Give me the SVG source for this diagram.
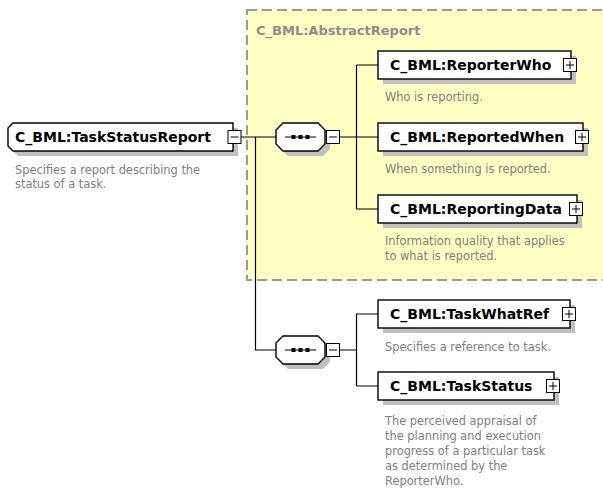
<svg xmlns="http://www.w3.org/2000/svg" xmlns:xlink="http://www.w3.org/1999/xlink" width="603" height="492" viewBox="0 0 603 492">
  <style>
    .box{fill:#fff;stroke:#000;stroke-width:1.4}
    .shadow{fill:#c0c0c0}
    .name{font-family:"DejaVu Sans",Verdana,sans-serif;font-weight:bold;font-size:14px;fill:#000}
    .group-name{font-family:"DejaVu Sans",Verdana,sans-serif;font-weight:bold;font-size:13px;fill:#8c8c8c}
    .doc{font-family:"DejaVu Sans",Verdana,sans-serif;font-size:11.4px;fill:#808080}
    .wire{fill:none;stroke:#000;stroke-width:1.2}
    .btn{fill:#fff;stroke:#000;stroke-width:1}
    .sign{stroke:#000;stroke-width:1;fill:none}
    .group{fill:#ffffc4;stroke:#9a9a9a;stroke-width:2;stroke-dasharray:10 5}
  </style>
  <defs>
    <!-- expand / collapse buttons, centred on the origin -->
    <g id="plus">
      <rect class="btn" x="-6.5" y="-6.5" width="13" height="13"/>
      <path class="sign" d="M-4,0H4M0,-4V4"/>
    </g>
    <g id="minus">
      <rect class="btn" x="-6.5" y="-6.5" width="13" height="13"/>
      <path class="sign" d="M-4,0H4"/>
    </g>
    <!-- sequence compositor, top-left at the origin -->
    <path id="octagon" d="M7,0H42L49,7V21L42,28H7L0,21V7Z"/>
    <g id="sequence">
      <use xlink:href="#octagon" class="shadow" x="5" y="5"/>
      <use xlink:href="#octagon" class="box"/>
      <path class="sign" d="M9,14H40" stroke-width="1.3"/>
      <rect x="15.5" y="12" width="4" height="4" fill="#000"/>
      <rect x="22.5" y="12" width="4" height="4" fill="#000"/>
      <rect x="29.5" y="12" width="4" height="4" fill="#000"/>
      <use xlink:href="#minus" x="57" y="14"/>
    </g>
  </defs>

  <!-- attribute group area -->
  <g id="AbstractReport">
    <rect class="group" x="247" y="10" width="370" height="270"/>
    <text class="group-name" x="256" y="35">C_BML:AbstractReport</text>
  </g>

  <!-- connectors -->
  <g id="connectors">
    <path class="wire" d="M241,137H276"/>
    <path class="wire" d="M255.5,137V350H276"/>
    <path class="wire" d="M333,137H356.5M356.5,65V209M356.5,65H378M356.5,137H378M356.5,209H378"/>
    <path class="wire" d="M333,350H356.5M356.5,314V386M356.5,314H378M356.5,386H378"/>
  </g>

  <g id="TaskStatusReport">
    <path class="shadow" d="M18,128H238V156H18L13,151V133Z"/>
    <path class="box" d="M13,123H233V151H13L8,146V128Z"/>
    <text class="name" x="15" y="142">C_BML:TaskStatusReport</text>
    <use xlink:href="#minus" x="234.5" y="137"/>
    <text class="doc" x="15" y="174">Specifies a report describing the</text>
    <text class="doc" x="15" y="188">status of a task.</text>
  </g>

  <g id="sequence1">
    <use xlink:href="#sequence" x="276" y="123"/>
  </g>

  <g id="ReporterWho">
    <rect class="shadow" x="383" y="56" width="193" height="28"/>
    <rect class="box" x="378" y="51" width="193" height="28"/>
    <text class="name" x="390" y="70">C_BML:ReporterWho</text>
    <use xlink:href="#plus" x="570" y="65"/>
    <text class="doc" x="385" y="101">Who is reporting.</text>
  </g>

  <g id="ReportedWhen">
    <rect class="shadow" x="383" y="128" width="205" height="28"/>
    <rect class="box" x="378" y="123" width="205" height="28"/>
    <text class="name" x="390" y="142">C_BML:ReportedWhen</text>
    <use xlink:href="#plus" x="582" y="137"/>
    <text class="doc" x="385" y="173">When something is reported.</text>
  </g>

  <g id="ReportingData">
    <rect class="shadow" x="383" y="200" width="199" height="28"/>
    <rect class="box" x="378" y="195" width="199" height="28"/>
    <text class="name" x="390" y="214">C_BML:ReportingData</text>
    <use xlink:href="#plus" x="576" y="209"/>
    <text class="doc" x="385" y="245">Information quality that applies</text>
    <text class="doc" x="385" y="260">to what is reported.</text>
  </g>

  <g id="sequence2">
    <use xlink:href="#sequence" x="276" y="336"/>
  </g>

  <g id="TaskWhatRef">
    <rect class="shadow" x="383" y="305" width="192" height="28"/>
    <rect class="box" x="378" y="300" width="192" height="28"/>
    <text class="name" x="390" y="319">C_BML:TaskWhatRef</text>
    <use xlink:href="#plus" x="569" y="314"/>
    <text class="doc" x="385" y="351">Specifies a reference to task.</text>
  </g>

  <g id="TaskStatus">
    <rect class="shadow" x="383" y="377" width="176" height="28"/>
    <rect class="box" x="378" y="372" width="176" height="28"/>
    <text class="name" x="390" y="391">C_BML:TaskStatus</text>
    <use xlink:href="#plus" x="553" y="386"/>
    <text class="doc" x="385" y="425">The perceived appraisal of</text>
    <text class="doc" x="385" y="440">the planning and execution</text>
    <text class="doc" x="385" y="455">progress of a particular task</text>
    <text class="doc" x="385" y="470">as determined by the</text>
    <text class="doc" x="385" y="485">ReporterWho.</text>
  </g>
</svg>
